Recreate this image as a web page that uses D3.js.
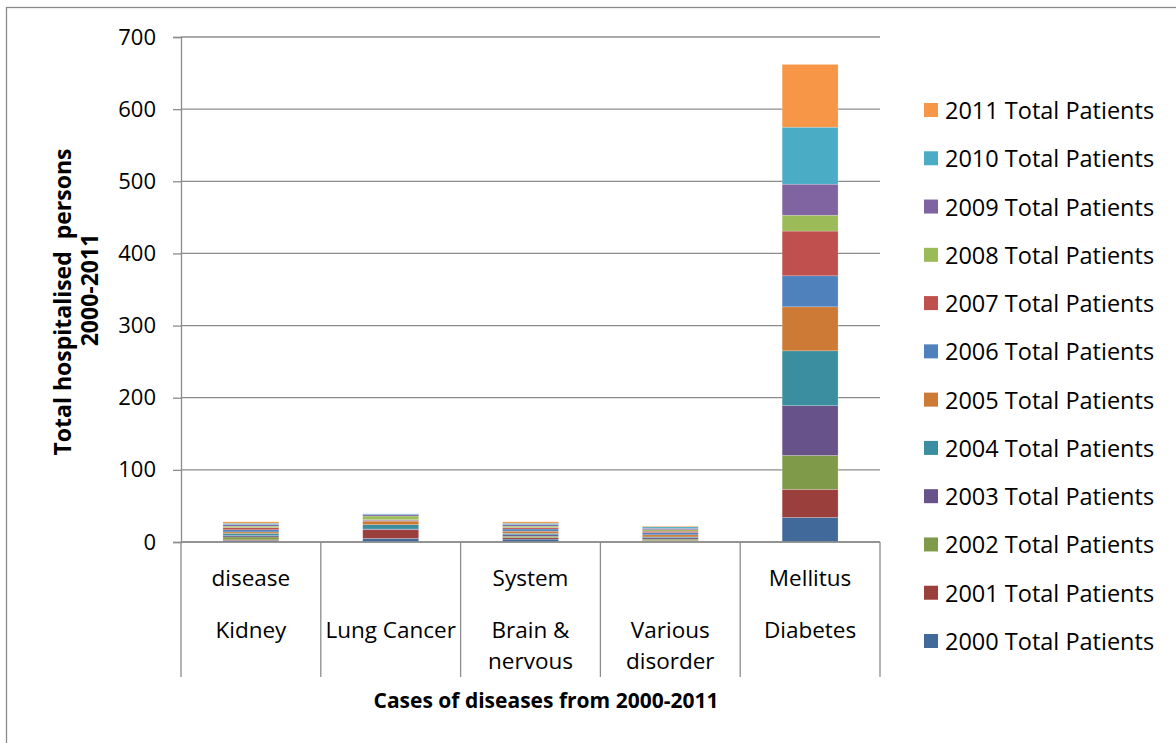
<!DOCTYPE html>
<html><head><meta charset="utf-8">
<script src="https://cdn.jsdelivr.net/npm/d3@7"></script>
<style>body{margin:0;background:#fff;} text{font-family:"Open Sans",sans-serif;}</style>
</head><body>
<svg id="c" width="1176" height="743"></svg>
<script>
const categories = ["Kidney disease","Lung Cancer","Brain & nervous System","Various disorder","Diabetes Mellitus"];
const catLines = [["disease","Kidney",""],["","Lung Cancer",""],["System","Brain &","nervous"],["","Various","disorder"],["Mellitus","Diabetes",""]];
const years = ["2000","2001","2002","2003","2004","2005","2006","2007","2008","2009","2010","2011"];
const seriesNames = years.map(y => y + " Total Patients");
// values per year, ordered as categories
const v2000 = [2, 5, 4, 1, 34];
const v2001 = [1, 12, 2, 1, 39];
const v2002 = [4, 0, 2, 2, 47];
const v2003 = [2, 1, 2, 2, 69];
const v2004 = [3, 6, 2, 1, 76];
const v2005 = [2, 5, 3, 3, 61];
const v2006 = [3, 1, 3, 3, 43];
const v2007 = [3, 1, 2, 2, 62];
const v2008 = [2, 5, 2, 2, 22];
const v2009 = [2, 2, 2, 2, 43];
const v2010 = [2, 1, 2, 2, 79];
const v2011 = [2, 0, 2, 1, 87];
const seriesValues = [v2000,v2001,v2002,v2003,v2004,v2005,v2006,v2007,v2008,v2009,v2010,v2011];
const colors = ["#41699A","#9B3F3D","#7F9A48","#67538A","#3B8DA0","#CC7A35","#4F81BD","#C0504D","#9BBB59","#8064A2","#4BACC6","#F79646"];
const yTicks = [0,100,200,300,400,500,600,700];

const svg = d3.select("#c");
svg.append("rect").attr("x",6.5).attr("y",7.5).attr("width",1180).attr("height",750)
  .attr("fill","none").attr("stroke","#8a8a8a").attr("stroke-width",1.3);

const L = 181, R = 880, T = 37, B = 542;
const x = d3.scaleBand().domain(categories).range([L, R]).paddingInner(0).paddingOuter(0);
const y = d3.scaleLinear().domain([0, 700]).range([B, T]);

// gridlines
svg.append("g").selectAll("line").data(yTicks).join("line")
  .attr("x1", L).attr("x2", R).attr("y1", d => y(d)).attr("y2", d => y(d))
  .attr("stroke", "#8c8c8c").attr("stroke-width", 1.3);

// y axis
const ya = svg.append("g").attr("transform", `translate(${L},0)`)
  .call(d3.axisLeft(y).tickValues(yTicks).tickSize(8).tickPadding(17).tickFormat(d3.format("d")));
ya.select(".domain").attr("stroke", "#8c8c8c").attr("stroke-width", 1.3);
ya.selectAll(".tick line").attr("stroke", "#8c8c8c").attr("stroke-width", 1.3);
ya.selectAll(".tick text").attr("font-size", 22).attr("fill", "#000").attr("font-family","'Open Sans', sans-serif");

// stacked bars
const table = categories.map((c, i) => {
  const o = {cat: c};
  years.forEach((yr, j) => o[yr] = seriesValues[j][i]);
  return o;
});
const stack = d3.stack().keys(years)(table);
const bw = x.bandwidth() * 0.4;
svg.append("g").selectAll("g").data(stack).join("g")
  .attr("fill", (d, i) => colors[i])
  .selectAll("rect").data(d => d).join("rect")
  .attr("x", d => x(d.data.cat) + (x.bandwidth() - bw) / 2)
  .attr("width", bw)
  .attr("y", d => y(d[1]))
  .attr("height", d => Math.max(0, y(d[0]) - y(d[1])))
  .attr("stroke", "rgba(255,255,255,0.35)").attr("stroke-width", 0.6);

// x axis line and separators
svg.append("line").attr("x1", L).attr("x2", R).attr("y1", B).attr("y2", B)
  .attr("stroke", "#8c8c8c").attr("stroke-width", 1.6);
const seps = categories.map(c => x(c)).concat([R]);
svg.append("g").selectAll("line").data(seps).join("line")
  .attr("x1", d => d).attr("x2", d => d).attr("y1", B).attr("y2", 677)
  .attr("stroke", "#8c8c8c").attr("stroke-width", 1.3);

const lineY = [577, 629, 660];
categories.forEach((c, i) => {
  catLines[i].forEach((t, k) => {
    if (!t) return;
    svg.append("text").attr("x", x(c) + x.bandwidth() / 2).attr("y", lineY[k])
      .attr("text-anchor", "middle").attr("dominant-baseline", "central")
      .attr("font-size", 22.5).attr("fill", "#000").text(t);
  });
});

// axis titles
svg.append("text").attr("x", 546).attr("y", 700).attr("text-anchor", "middle")
  .attr("dominant-baseline", "central").attr("font-size", 21).attr("font-weight", "bold")
  .text("Cases of diseases from 2000-2011");
svg.append("text").attr("transform", "translate(62,302) rotate(-90)")
  .attr("text-anchor", "middle").attr("dominant-baseline", "central")
  .attr("font-size", 23).attr("font-weight", "bold").attr("xml:space","preserve")
  .text("Total hospitalised  persons");
svg.append("text").attr("transform", "translate(89,290) rotate(-90)")
  .attr("text-anchor", "middle").attr("dominant-baseline", "central")
  .attr("font-size", 23).attr("font-weight", "bold").text("2000-2011");

// legend (reverse order)
const legY = d3.scalePoint().domain(seriesNames.slice().reverse()).range([110, 641]);
const lg = svg.append("g").selectAll("g").data(seriesNames).join("g")
  .attr("transform", d => `translate(924,${legY(d)})`);
lg.append("rect").attr("x", 0).attr("y", -7).attr("width", 14).attr("height", 14)
  .attr("fill", (d, i) => colors[i]);
lg.append("text").attr("x", 21).attr("y", 0).attr("dominant-baseline", "central")
  .attr("font-size", 23.5).attr("fill", "#000").text(d => d);
</script>
</body></html>
